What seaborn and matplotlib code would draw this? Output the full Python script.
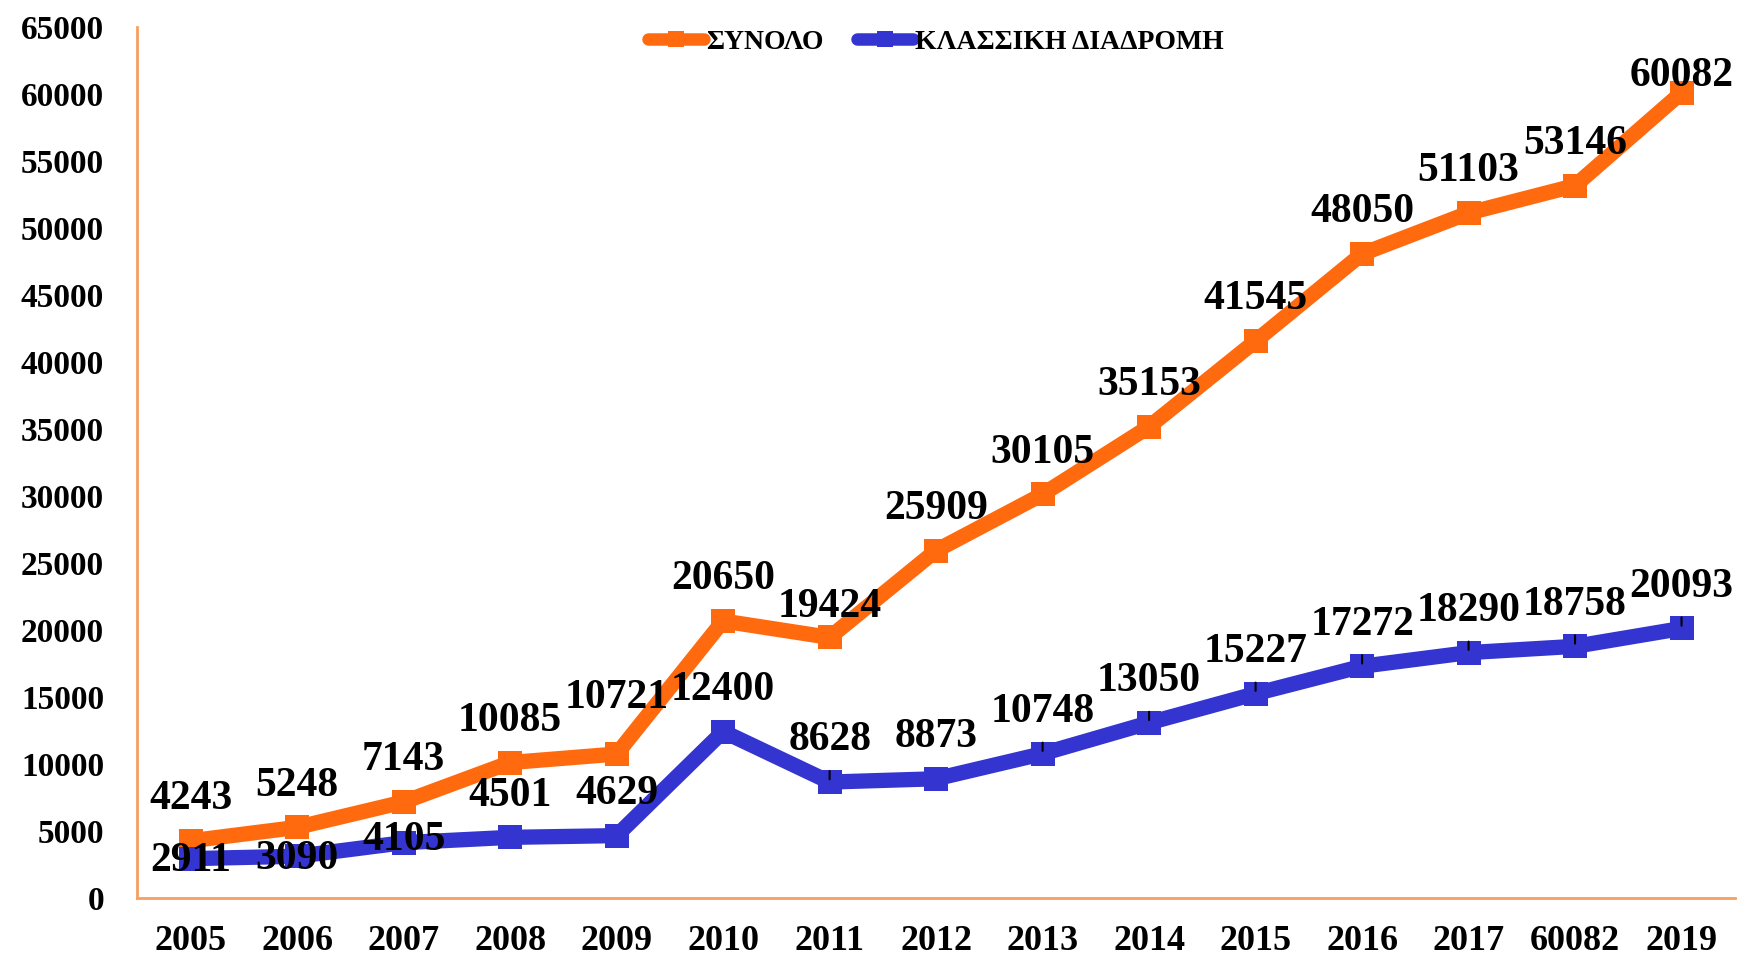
import numpy as np
import pandas as pd
import seaborn as sns
import matplotlib.pyplot as plt

sns.set_style('white')
plt.rcParams['font.family'] = ['Liberation Serif', 'DejaVu Serif']
plt.rcParams['font.weight'] = 'bold'
plt.rcParams['text.color'] = 'black'
plt.rcParams['xtick.color'] = 'black'
plt.rcParams['ytick.color'] = 'black'

# data
years = ['2005', '2006', '2007', '2008', '2009', '2010', '2011', '2012',
         '2013', '2014', '2015', '2016', '2017', '60082', '2019']
synolo = [4243, 5248, 7143, 10085, 10721, 20650, 19424, 25909,
          30105, 35153, 41545, 48050, 51103, 53146, 60082]
klassiki = [2911, 3090, 4105, 4501, 4629, 12400, 8628, 8873,
            10748, 13050, 15227, 17272, 18290, 18758, 20093]
series_names = ['ΣΥΝΟΛΟ', 'ΚΛΑΣΣΙΚΗ ΔΙΑΔΡΟΜΗ']

orange = '#FF6A0E'
blue = '#3434D0'

df = pd.DataFrame({
    'pos': list(range(len(years))) * 2,
    'value': synolo + klassiki,
    'series': [series_names[0]] * len(years) + [series_names[1]] * len(years),
})

fig = plt.figure(figsize=(17.4, 9.58), dpi=100)
ax = fig.add_axes([0.079, 0.063, 0.918, 0.909])

sns.lineplot(data=df, x='pos', y='value', hue='series',
             palette=[orange, blue], marker='s', markersize=17,
             markeredgewidth=0, linewidth=11, ax=ax, legend=True)

ax.set_xlim(-0.5, len(years) - 0.5)
ax.set_ylim(0, 65000)
ax.set_yticks(np.arange(0, 65001, 5000))
ax.set_yticklabels([str(v) for v in range(0, 65001, 5000)], fontsize=24, fontweight='bold')
ax.set_xticks(range(len(years)))
ax.set_xticklabels(years, fontsize=26, fontweight='bold')
ax.tick_params(axis='y', length=0, pad=24)
ax.tick_params(axis='x', length=0, pad=20)
ax.set_xlabel('')
ax.set_ylabel('')

for s in ['top', 'right']:
    ax.spines[s].set_visible(False)
for s in ['left', 'bottom']:
    ax.spines[s].set_color('#F5A060')
    ax.spines[s].set_linewidth(2)

# data labels
orange_off = {4: 40, 6: 22, 14: 12}
for i, v in enumerate(synolo):
    dy = orange_off.get(i, 30)
    ax.annotate(str(v), (i, v), xytext=(0, dy), textcoords='offset points',
                ha='center', va='center', fontsize=30, fontweight='bold')

blue_off = {0: -2, 1: -2, 2: 2}
leader = [6, 8, 9, 10, 11, 12, 13, 14]
for i, v in enumerate(klassiki):
    dy = blue_off.get(i, 30)
    arrow = None
    if i in leader:
        arrow = dict(arrowstyle='-', color='black', lw=1.5, shrinkA=6, shrinkB=2)
    ax.annotate(str(v), (i, v), xytext=(0, dy), textcoords='offset points',
                ha='center', va='center', fontsize=30, fontweight='bold',
                arrowprops=arrow)

leg = ax.legend(loc='upper center', bbox_to_anchor=(0.5, 1.01), ncol=2, frameon=False,
                prop={'size': 20, 'weight': 'bold'}, handlelength=2.0,
                columnspacing=1.2, handletextpad=0.1, borderaxespad=0.0)
for h in leg.legend_handles:
    h.set_linewidth(9)
    h.set_markersize(12)

plt.savefig('out.png', dpi=100)
